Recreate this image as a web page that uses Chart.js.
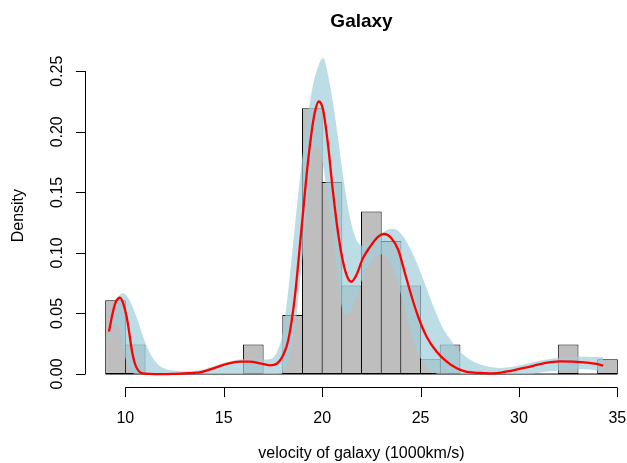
<!DOCTYPE html>
<html>
<head>
<meta charset="utf-8">
<script src="https://cdn.jsdelivr.net/npm/chart.js@4.4.1/dist/chart.umd.min.js"></script>
<style>
  html, body { margin: 0; padding: 0; background: #fff; }
  #chart { display: block; }
</style>
</head>
<body>
<canvas id="chart" width="627" height="463"></canvas>
<script>
// Histogram: bin start (1000km/s) and density
const binStarts = [9, 10, 11, 12, 13, 14, 15, 16, 17, 18, 19, 20, 21, 22, 23, 24, 25, 26, 27, 28, 29, 30, 31, 32, 33, 34];
const binDensity = [0.061, 0.0244, 0, 0, 0, 0, 0, 0.0244, 0, 0.0488, 0.2195, 0.1585, 0.0732, 0.1341, 0.1098, 0.0732, 0.0122, 0.0244, 0, 0, 0, 0, 0, 0.0244, 0, 0.0122];

// Density estimate (red line)
const curveX = [9.17, 9.35, 9.5, 9.73, 9.9, 10.07, 10.2, 10.32, 10.49, 10.74, 11.0, 11.5, 12.0, 12.5, 13.0, 13.5, 13.79, 14.47, 15.15, 15.82, 16.33, 16.84, 17.35, 17.69, 18.02, 18.28, 18.6, 18.95, 19.3, 19.58, 19.83, 20.05, 20.3, 20.55, 20.8, 21.06, 21.31, 21.48, 21.74, 22.07, 22.43, 22.85, 23.14, 23.53, 23.87, 24.21, 24.55, 24.88, 25.31, 25.82, 26.33, 26.84, 27.3, 27.7, 28.2, 28.7, 29.1, 29.54, 30.39, 31.24, 32.08, 32.76, 33.44, 33.95, 34.28];
const curveY = [0.035, 0.05, 0.059, 0.063, 0.058, 0.047, 0.034, 0.0205, 0.0085, 0.0015, 0.0003, 0, 0, 0.0002, 0.0005, 0.001, 0.0014, 0.0047, 0.0083, 0.0102, 0.0102, 0.0088, 0.0072, 0.0085, 0.0157, 0.028, 0.062, 0.12, 0.178, 0.212, 0.225, 0.218, 0.189, 0.1505, 0.1175, 0.0927, 0.079, 0.0762, 0.0818, 0.0955, 0.105, 0.1134, 0.1156, 0.112, 0.1024, 0.0831, 0.0638, 0.0473, 0.0308, 0.0184, 0.0102, 0.0047, 0.002, 0.0012, 0.0008, 0.0006, 0.0012, 0.0025, 0.0055, 0.0088, 0.0105, 0.0102, 0.0094, 0.0083, 0.0069];

// Variability band (light blue)
const bandX = [9.17, 9.3, 9.5, 9.7, 9.9, 10.1, 10.3, 10.5, 10.7, 10.9, 11.2, 11.6, 12.0, 12.5, 13.0, 13.5, 14.0, 14.5, 15.0, 15.5, 16.0, 16.5, 17.0, 17.4, 17.7, 18.0, 18.3, 18.6, 18.9, 19.2, 19.5, 19.8, 20.05, 20.3, 20.55, 20.8, 21.05, 21.3, 21.55, 21.8, 22.05, 22.3, 22.6, 22.9, 23.2, 23.5, 23.8, 24.1, 24.4, 24.7, 25.0, 25.3, 25.6, 25.9, 26.2, 26.5, 26.8, 27.1, 27.5, 28.0, 28.5, 29.0, 29.5, 30.0, 30.5, 31.0, 31.5, 32.0, 32.5, 33.0, 33.5, 34.0, 34.28];
const bandUpper = [0.046, 0.053, 0.06, 0.065, 0.0666, 0.064, 0.058, 0.05, 0.041, 0.031, 0.019, 0.009, 0.0045, 0.0028, 0.0022, 0.0025, 0.004, 0.0065, 0.009, 0.0112, 0.0122, 0.0122, 0.012, 0.0125, 0.018, 0.034, 0.072, 0.12, 0.166, 0.205, 0.236, 0.254, 0.261, 0.247, 0.224, 0.196, 0.165, 0.139, 0.12, 0.109, 0.106, 0.108, 0.11, 0.114, 0.118, 0.12, 0.119, 0.114, 0.106, 0.096, 0.084, 0.071, 0.058, 0.046, 0.036, 0.029, 0.022, 0.017, 0.012, 0.008, 0.006, 0.005, 0.0055, 0.007, 0.009, 0.0108, 0.0122, 0.0132, 0.014, 0.0143, 0.0143, 0.014, 0.0138];
const bandLower = [0.022, 0.033, 0.041, 0.037, 0.02, 0.008, 0.002, 0, 0, 0, 0, 0, 0, 0, 0, 0, 0, 0, 0, 0, 0, 0, 0, 0, 0, 0.002, 0.012, 0.035, 0.08, 0.13, 0.18, 0.188, 0.172, 0.145, 0.117, 0.08, 0.052, 0.049, 0.056, 0.066, 0.079, 0.088, 0.095, 0.099, 0.098, 0.09, 0.077, 0.06, 0.041, 0.025, 0.013, 0.006, 0.002, 0, 0, 0, 0, 0, 0, 0, 0, 0, 0, 0, 0, 0.001, 0.002, 0.003, 0.004, 0.004, 0.004, 0.003, 0.003];

// Axes and labels
const xTicks = [10, 15, 20, 25, 30, 35];
const yTicks = [0, 0.05, 0.1, 0.15, 0.2, 0.25];
const yTickLabels = ['0.00', '0.05', '0.10', '0.15', '0.20', '0.25'];
const titleText = 'Galaxy';
const xTitle = 'velocity of galaxy (1000km/s)';
const yTitle = 'Density';

const FONT = '"Liberation Sans", Arial, Helvetica, sans-serif';
const toPoints = (xs, ys) => xs.map((x, i) => ({ x, y: ys[i] }));

// R-style axes, labels and title drawn from the chart scales
const rAxes = {
	id: 'rAxes',
	afterDraw(chart) {
		const { ctx, chartArea: area, scales } = chart;
		const xs = scales.x;
		const ys = scales.y;
		const tick = 9.6;
		const midX = (area.left + xs.getPixelForValue(36.04)) / 2;
		ctx.save();
		ctx.strokeStyle = '#000';
		ctx.fillStyle = '#000';
		ctx.lineWidth = 1;

		// x axis
		const axY = Math.round(area.bottom) + 0.5;
		ctx.beginPath();
		ctx.moveTo(xs.getPixelForValue(xTicks[0]), axY);
		ctx.lineTo(xs.getPixelForValue(xTicks[xTicks.length - 1]), axY);
		xTicks.forEach((t) => {
			const px = Math.round(xs.getPixelForValue(t)) + 0.5;
			ctx.moveTo(px, axY);
			ctx.lineTo(px, axY + tick);
		});
		ctx.stroke();
		ctx.font = '16px ' + FONT;
		ctx.textAlign = 'center';
		ctx.textBaseline = 'alphabetic';
		xTicks.forEach((t) => ctx.fillText(String(t), xs.getPixelForValue(t), 423));
		ctx.fillText(xTitle, midX, 458);

		// y axis
		const axX = Math.round(area.left) + 0.5;
		ctx.beginPath();
		ctx.moveTo(axX, ys.getPixelForValue(yTicks[0]));
		ctx.lineTo(axX, ys.getPixelForValue(yTicks[yTicks.length - 1]));
		yTicks.forEach((t) => {
			const py = Math.round(ys.getPixelForValue(t)) + 0.5;
			ctx.moveTo(axX, py);
			ctx.lineTo(axX - tick, py);
		});
		ctx.stroke();
		yTicks.forEach((t, i) => {
			ctx.save();
			ctx.translate(62, ys.getPixelForValue(t));
			ctx.rotate(-Math.PI / 2);
			ctx.fillText(yTickLabels[i], 0, 0);
			ctx.restore();
		});
		ctx.save();
		ctx.translate(23, (area.top + area.bottom) / 2);
		ctx.rotate(-Math.PI / 2);
		ctx.fillText(yTitle, 0, 0);
		ctx.restore();

		// title
		ctx.font = 'bold 19px ' + FONT;
		ctx.fillText(titleText, midX, 26.5);
		ctx.restore();
	},
};

new Chart(document.getElementById('chart'), {
	data: {
		datasets: [
			{
				type: 'line',
				label: 'density',
				data: toPoints(curveX, curveY),
				borderColor: '#FF0000',
				borderWidth: 2.3,
				pointRadius: 0,
				cubicInterpolationMode: 'monotone',
				fill: false,
				order: 1,
			},
			{
				type: 'line',
				label: 'band lower',
				data: toPoints(bandX, bandLower),
				borderColor: 'transparent',
				borderWidth: 0,
				pointRadius: 0,
				cubicInterpolationMode: 'monotone',
				fill: false,
				order: 2,
			},
			{
				type: 'line',
				label: 'band upper',
				data: toPoints(bandX, bandUpper),
				borderColor: 'transparent',
				borderWidth: 0,
				pointRadius: 0,
				cubicInterpolationMode: 'monotone',
				fill: { target: 1 },
				backgroundColor: 'rgba(160, 206, 219, 0.7)',
				order: 2,
			},
			{
				type: 'line',
				label: 'baseline',
				data: [{ x: binStarts[0], y: 0 }, { x: binStarts[binStarts.length - 1] + 1, y: 0 }],
				borderColor: '#000',
				borderWidth: 1,
				pointRadius: 0,
				fill: false,
				order: 3,
			},
			{
				type: 'bar',
				label: 'histogram',
				data: binStarts.map((b, i) => ({ x: b + 0.5, y: binDensity[i] })),
				backgroundColor: '#BEBEBE',
				borderColor: '#000',
				borderWidth: 1,
				borderSkipped: false,
				// slightly wider than the bin so neighbouring borders overlap into one line
				barPercentage: 1.05,
				categoryPercentage: 1,
				grouped: false,
				order: 4,
			},
		],
	},
	options: {
		responsive: false,
		devicePixelRatio: 1,
		animation: false,
		layout: { padding: { left: 85.2, right: 0, top: 44.6, bottom: 76.3 } },
		plugins: {
			legend: { display: false },
			tooltip: { enabled: false },
			title: { display: false },
		},
		scales: {
			x: { type: 'linear', min: 7.96, max: 35.49, offset: false, display: false },
			y: { type: 'linear', min: -0.01046, max: 0.272, display: false },
		},
	},
	plugins: [rAxes],
});
</script>
</body>
</html>
